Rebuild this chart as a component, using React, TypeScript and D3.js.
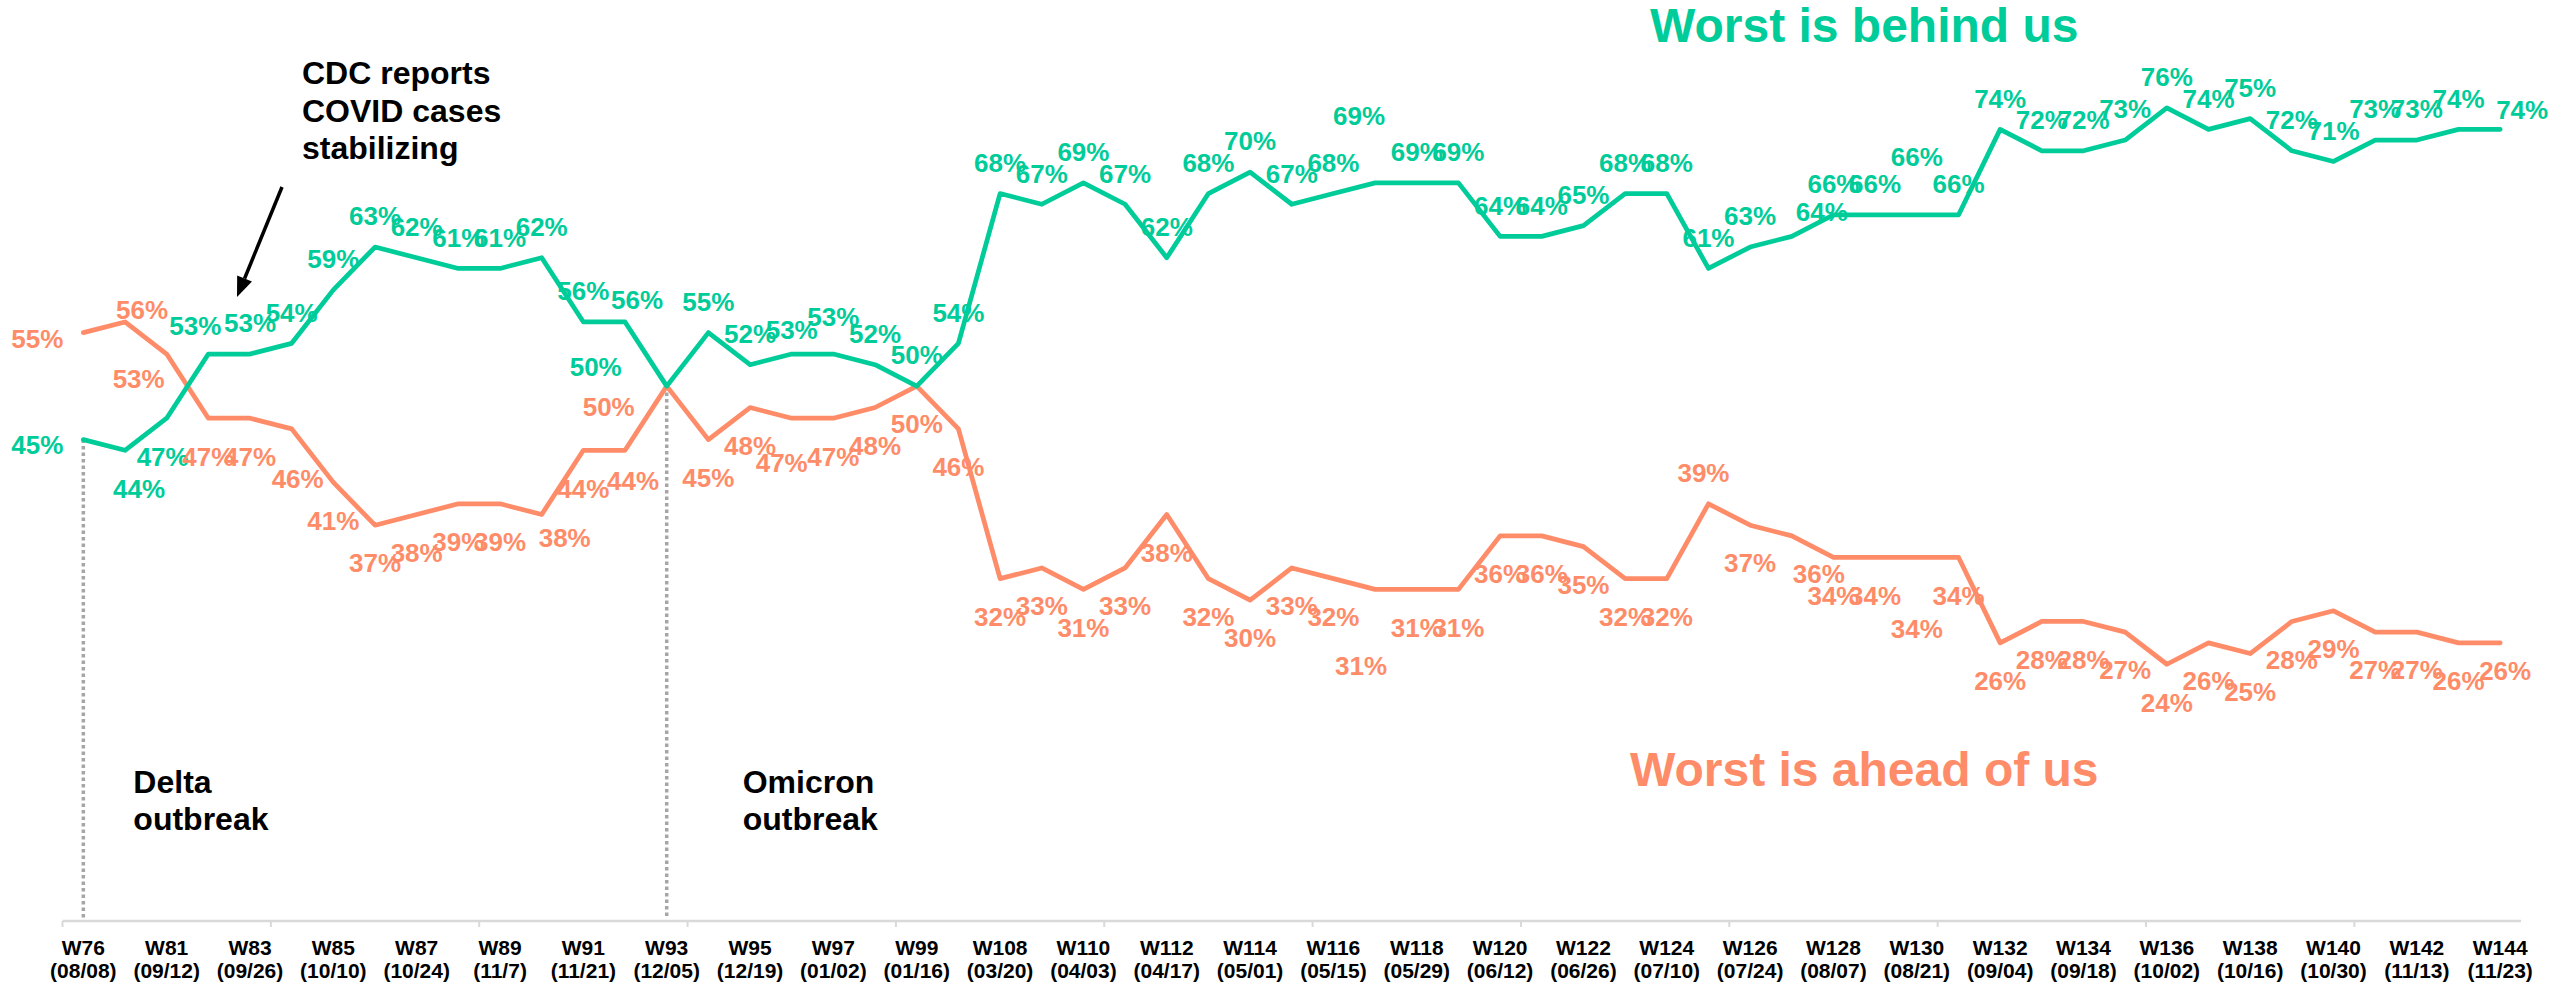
import React from "react";
import * as d3 from "d3";

const greenVals = [45,44,47,53,53,54,59,63,62,61,61,62,56,56,50,55,52,53,53,52,50,54,68,67,69,67,62,68,70,67,68,69,69,69,64,64,65,68,68,61,63,64,66,66,66,66,74,72,72,73,76,74,75,72,71,73,73,74,74];
const orangeVals = [55,56,53,47,47,46,41,37,38,39,39,38,44,44,50,45,48,47,47,48,50,46,32,33,31,33,38,32,30,33,32,31,31,31,36,36,35,32,32,39,37,36,34,34,34,34,26,28,28,27,24,26,25,28,29,27,27,26,26];
const tickWeeks = ["W76","W81","W83","W85","W87","W89","W91","W93","W95","W97","W99","W108","W110","W112","W114","W116","W118","W120","W122","W124","W126","W128","W130","W132","W134","W136","W138","W140","W142","W144"];
const tickDates = ["(08/08)","(09/12)","(09/26)","(10/10)","(10/24)","(11/7)","(11/21)","(12/05)","(12/19)","(01/02)","(01/16)","(03/20)","(04/03)","(04/17)","(05/01)","(05/15)","(05/29)","(06/12)","(06/26)","(07/10)","(07/24)","(08/07)","(08/21)","(09/04)","(09/18)","(10/02)","(10/16)","(10/30)","(11/13)","(11/23)"];
const seriesNames = ["Worst is behind us", "Worst is ahead of us"];
const eventLabels = [["Delta", "outbreak"], ["Omicron", "outbreak"]];
const eventIndex = [0, 14];
const noteLines = ["CDC reports", "COVID cases", "stabilizing"];

const GREEN = "#00CC99";
const ORANGE = "#FF8C69";
const FONT = "'Liberation Sans', Arial, Helvetica, sans-serif";

// label placement tweaks (layout): [dx, dyCenter, anchor]
const greenOff: Record<number, [number, number, string]> = {
  0: [-20, 5, "end"], 1: [14, 38, "middle"], 2: [-4, 38, "middle"], 3: [-13, -28, "middle"],
  13: [12, -22, "middle"], 14: [-71, -19, "middle"], 17: [0, -24, "middle"], 18: [0, -37, "middle"],
  31: [-16, -67, "middle"], 41: [30, -25, "middle"], 44: [0, -58, "middle"], 58: [22, -20, "middle"],
};
const orangeOff: Record<number, [number, number, string]> = {
  0: [-20, 6, "end"], 1: [17, -12, "middle"], 2: [-28, 25, "middle"], 5: [6, 50, "middle"],
  11: [23, 23, "middle"], 13: [8, 30, "middle"], 14: [-58, 21, "middle"], 17: [-10, 44, "middle"],
  31: [-14, 76, "middle"], 39: [-5, -31, "middle"], 41: [27, 38, "middle"], 44: [0, 71, "middle"],
  58: [5, 28, "middle"],
};

export default function App() {
  const W = 2554, H = 985;
  const n = greenVals.length;
  const idx = d3.range(n);
  const x = d3.scaleBand<number>().domain(idx).range([62.5, 62.5 + n * 41.67]).paddingInner(0).paddingOuter(0);
  const cx = (i: number) => (x(i) as number) + x.bandwidth() / 2;
  const y = d3.scaleLinear().domain([0, 86]).range([921, 1]);
  const line = d3.line<number>().x((_, i) => cx(i)).y((v) => y(v));
  const axisY = 921;
  const tickIdx = idx.filter((i) => i % 5 === 0);

  const labels = (vals: number[], color: string, off: Record<number, [number, number, string]>, defDy: number) =>
    vals.map((v, i) => {
      const o = off[i] || [0, defDy, "middle"];
      return (
        <text key={i} x={cx(i) + o[0]} y={y(v) + o[1] + 9.3} textAnchor={o[2] as any}
          fill={color} fontSize={26} fontWeight="bold" fontFamily={FONT}>{v}%</text>
      );
    });

  // arrow
  const ax1 = 282, ay1 = 187, ax2 = 237, ay2 = 297;
  const ang = Math.atan2(ay2 - ay1, ax2 - ax1);
  const hl = 20, hw = 8;
  const bx = ax2 - hl * Math.cos(ang), by = ay2 - hl * Math.sin(ang);
  const head = `${ax2},${ay2} ${bx + hw * Math.sin(ang)},${by - hw * Math.cos(ang)} ${bx - hw * Math.sin(ang)},${by + hw * Math.cos(ang)}`;

  return (
    <svg width={W} height={H} style={{ position: "absolute", left: 0, top: 0, background: "#fff" }}>
      <rect x={0} y={0} width={W} height={H} fill="#fff" />
      {/* axis */}
      <line x1={62.5} x2={62.5 + n * 41.67} y1={axisY} y2={axisY} stroke="#d9d9d9" strokeWidth={2.5} />
      {tickIdx.map((i) => (
        <line key={i} x1={x(i) as number} x2={x(i) as number} y1={axisY} y2={axisY + 6} stroke="#d9d9d9" strokeWidth={2} />
      ))}
      {tickWeeks.map((w, k) => (
        <g key={w}>
          <text x={cx(k * 2)} y={955} textAnchor="middle" fontSize={21} fontWeight="bold" fontFamily={FONT} fill="#000">{w}</text>
          <text x={cx(k * 2)} y={978} textAnchor="middle" fontSize={21} fontWeight="bold" fontFamily={FONT} fill="#000">{tickDates[k]}</text>
        </g>
      ))}
      {/* event dotted lines */}
      {eventIndex.map((ei) => (
        <line key={ei} x1={cx(ei)} x2={cx(ei)} y1={y(Math.min(greenVals[ei], orangeVals[ei]))} y2={axisY - 3}
          stroke="#a6a6a6" strokeWidth={3.5} strokeDasharray="3.5 3" />
      ))}
      {/* lines */}
      <path d={line(orangeVals) || ""} fill="none" stroke={ORANGE} strokeWidth={4.75} strokeLinejoin="round" strokeLinecap="round" />
      <path d={line(greenVals) || ""} fill="none" stroke={GREEN} strokeWidth={4.75} strokeLinejoin="round" strokeLinecap="round" />
      {labels(greenVals, GREEN, greenOff, -31)}
      {labels(orangeVals, ORANGE, orangeOff, 38)}
      {/* series titles */}
      <text x={1650} y={42} fontSize={48} fontWeight="bold" fontFamily={FONT} fill={GREEN}>{seriesNames[0]}</text>
      <text x={1630} y={786} fontSize={48} fontWeight="bold" fontFamily={FONT} fill={ORANGE}>{seriesNames[1]}</text>
      {/* note */}
      {noteLines.map((t, k) => (
        <text key={t} x={302} y={84.3 + k * 37.5} fontSize={32} fontWeight="bold" fontFamily={FONT} fill="#000">{t}</text>
      ))}
      <line x1={ax1} y1={ay1} x2={bx} y2={by} stroke="#000" strokeWidth={3.5} />
      <polygon points={head} fill="#000" />
      {/* event labels */}
      {eventLabels.map((lines, k) => (
        <g key={k}>
          {lines.map((t, j) => (
            <text key={j} x={cx(eventIndex[k]) + (k === 0 ? 50 : 76)} y={793 + j * 37} fontSize={32} fontWeight="bold" fontFamily={FONT} fill="#000">{t}</text>
          ))}
        </g>
      ))}
    </svg>
  );
}
